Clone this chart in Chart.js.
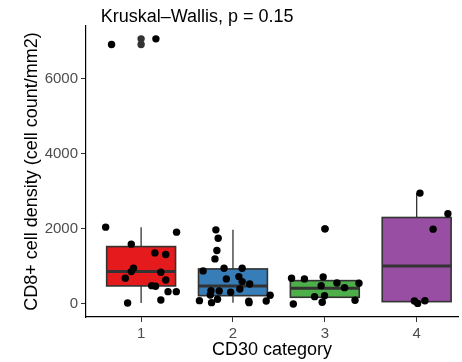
<!DOCTYPE html>
<html>
<head>
<meta charset="utf-8">
<script src="https://cdn.jsdelivr.net/npm/chart.js"></script>
<style>
  html, body { margin: 0; padding: 0; background: #fff; overflow: hidden; }
</style>
</head>
<body>
<canvas id="boxChart" width="462" height="362"></canvas>
<script>
// categories and tick labels
const categories = ["1", "2", "3", "4"];
const yTicks = [0, 2000, 4000, 6000];
const boxColors = ["#E41A1C", "#377EB8", "#4DAF4A", "#984EA3"];

// box statistics
const whiskerLow = [27, 35, 0, 15];
const q1 = [480, 221, 178, 62];
const median = [861, 480, 418, 1013];
const q3 = [1528, 933, 621, 2302];
const whiskerHigh = [2045, 1973, 720, 2952];

// boxplot outliers (drawn at the category centre)
const outlierX = [1, 1, 3];
const outlierY = [6907, 7058, 2000];

// jittered points: x position, value
const g1X = [0.614, 1.386, 0.893, 1.150, 1.268, 0.917, 0.893, 1.215, 0.828, 1.268, 1.115, 1.158, 1.293, 1.383, 1.215, 0.853, 0.678, 1.161];
const g1Y = [2045, 1912, 1592, 1360, 1315, 952, 861, 845, 685, 640, 488, 472, 328, 328, 107, 27, 6907, 7058];
const g2X = [1.814, 1.839, 1.825, 1.804, 1.675, 1.903, 2.100, 1.928, 2.064, 2.100, 2.182, 2.075, 1.761, 1.850, 1.975, 1.753, 1.832, 1.635, 1.767, 2.172, 2.175, 2.362, 2.405];
const g2Y = [1973, 1751, 1422, 1200, 880, 952, 952, 667, 729, 595, 533, 400, 355, 347, 312, 240, 125, 88, 35, 72, 35, 80, 232];
const g3X = [2.638, 2.778, 2.982, 2.960, 3.132, 3.215, 3.372, 2.889, 2.997, 2.971, 3.329, 2.657, 3.003];
const g3Y = [685, 667, 720, 488, 560, 435, 552, 195, 221, 45, 99, 0, 2000];
const g4X = [4.036, 4.340, 4.179, 3.975, 4.011, 4.090];
const g4Y = [2952, 2400, 1992, 80, 15, 85];

const testLabel = "Kruskal\u2013Wallis, p = 0.15";
const boxWidth = 0.75;

function toPoints(xs, ys) {
    return xs.map((v, i) => ({ x: v, y: ys[i] }));
}

const allPoints = []
    .concat(toPoints(g1X, g1Y))
    .concat(toPoints(g2X, g2Y))
    .concat(toPoints(g3X, g3Y))
    .concat(toPoints(g4X, g4Y));

const fontFamily = "'Liberation Sans', Arial, Helvetica, sans-serif";

const boxPlugin = {
    id: "boxes",
    beforeDatasetsDraw(chart) {
        const { ctx, scales: { x, y } } = chart;
        ctx.save();
        ctx.strokeStyle = "#333333";
        categories.forEach((c, i) => {
            const pos = i + 1;
            const left = x.getPixelForValue(pos - boxWidth / 2);
            const right = x.getPixelForValue(pos + boxWidth / 2);
            const mid = x.getPixelForValue(pos);
            const top = y.getPixelForValue(q3[i]);
            const bottom = y.getPixelForValue(q1[i]);

            ctx.lineWidth = 1.3;
            ctx.beginPath();
            ctx.moveTo(mid, y.getPixelForValue(whiskerHigh[i]));
            ctx.lineTo(mid, top);
            ctx.moveTo(mid, bottom);
            ctx.lineTo(mid, y.getPixelForValue(whiskerLow[i]));
            ctx.stroke();

            ctx.fillStyle = boxColors[i];
            ctx.fillRect(left, top, right - left, bottom - top);
            ctx.lineWidth = 1.6;
            ctx.strokeRect(left, top, right - left, bottom - top);

            ctx.lineWidth = 3;
            ctx.beginPath();
            ctx.moveTo(left, y.getPixelForValue(median[i]));
            ctx.lineTo(right, y.getPixelForValue(median[i]));
            ctx.stroke();
        });
        ctx.restore();
    },
    afterDraw(chart) {
        const { ctx, scales: { x, y } } = chart;
        ctx.save();
        ctx.font = "18px " + fontFamily;
        ctx.fillStyle = "#000";
        ctx.textAlign = "left";
        ctx.textBaseline = "middle";
        ctx.fillText(testLabel, x.getPixelForValue(0.56), y.getPixelForValue(7630));
        ctx.restore();
    }
};

const ctx = document.getElementById("boxChart").getContext("2d");

new Chart(ctx, {
    type: "scatter",
    data: {
        datasets: [
            {
                label: "points",
                data: allPoints,
                backgroundColor: "#000000",
                borderWidth: 0,
                pointRadius: 3.7
            },
            {
                label: "outliers",
                data: toPoints(outlierX, outlierY),
                backgroundColor: "#333333",
                borderWidth: 0,
                pointRadius: 3.7
            }
        ]
    },
    options: {
        responsive: false,
        animation: false,
        devicePixelRatio: 1,
        layout: { padding: { top: 26, left: 0, right: 0, bottom: 0 } },
        plugins: {
            legend: { display: false },
            tooltip: { enabled: false }
        },
        scales: {
            x: {
                type: "linear",
                min: 0.4,
                max: 4.45,
                afterBuildTicks: (s) => { s.ticks = categories.map((c, i) => ({ value: i + 1 })); },
                afterFit: (s) => { s.height = 45; },
                ticks: {
                    color: "#4D4D4D",
                    font: { family: fontFamily, size: 15 },
                    padding: 3,
                    callback: (v) => categories[v - 1]
                },
                grid: { drawOnChartArea: false, drawTicks: true, tickLength: 5, color: "#333333" },
                border: { display: true, color: "#000000", width: 1.2 },
                title: {
                    display: true,
                    text: "CD30 category",
                    color: "#000000",
                    font: { family: fontFamily, size: 18 },
                    padding: { top: 0, bottom: 1 }
                }
            },
            y: {
                type: "linear",
                min: -347,
                max: 7400,
                afterBuildTicks: (s) => { s.ticks = yTicks.map((v) => ({ value: v })); },
                afterFit: (s) => { s.width = 86; },
                ticks: {
                    color: "#4D4D4D",
                    font: { family: fontFamily, size: 15 },
                    padding: 3,
                    callback: (v) => String(v)
                },
                grid: { drawOnChartArea: false, drawTicks: true, tickLength: 5, color: "#333333" },
                border: { display: true, color: "#000000", width: 1.2 },
                title: {
                    display: true,
                    text: "CD8+ cell density (cell count/mm2)",
                    color: "#000000",
                    font: { family: fontFamily, size: 18 },
                    padding: { top: 21, bottom: 0 }
                }
            }
        }
    },
    plugins: [boxPlugin]
});
</script>
</body>
</html>
